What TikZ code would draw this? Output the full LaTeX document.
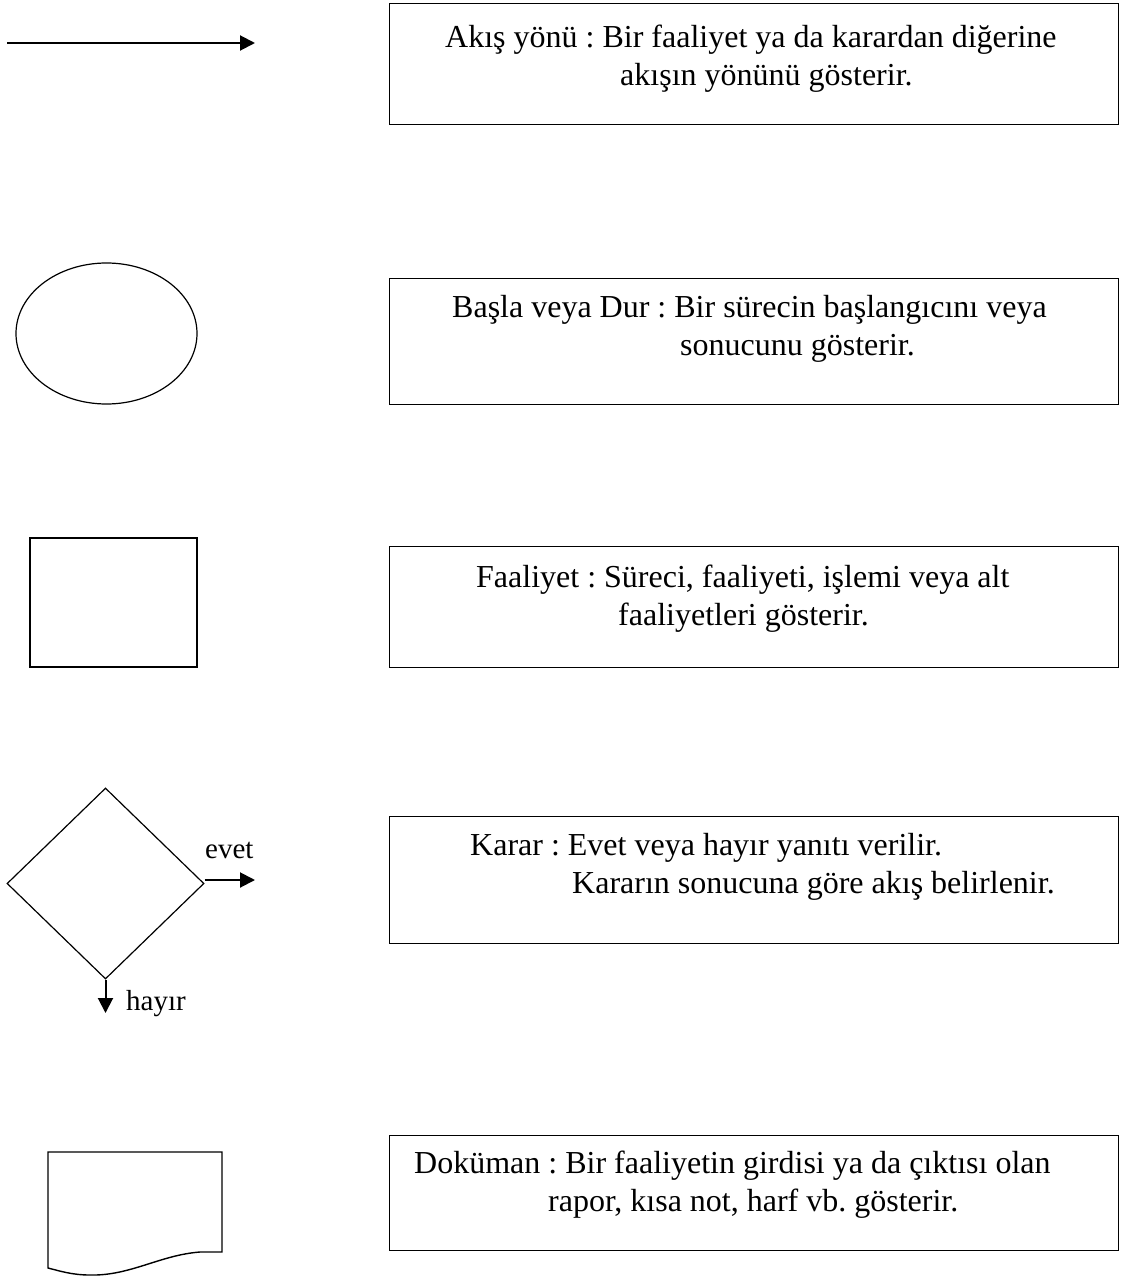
\documentclass[tikz,border=0pt]{standalone}
\usepackage{fontspec}
\setmainfont{Liberation Serif}
\usepackage{tikz}
\usetikzlibrary{arrows.meta,shapes.geometric}
\frenchspacing

\begin{document}
\begin{tikzpicture}[
  x=1pt, y=-1pt,
  kutu/.style={draw, line width=1.4pt, anchor=north west, minimum width=729pt, inner sep=0pt},
  sekil/.style={draw, line width=1.2pt, inner sep=0pt},
  satir/.style={anchor=base west, inner sep=0pt, font=\fontsize{32}{38}\selectfont},
  etiket/.style={anchor=base west, inner sep=0pt, font=\fontsize{29}{34}\selectfont},
  ok/.style={-{Triangle[length=15pt,width=15pt]}, line width=2pt}
]
\useasboundingbox (0,0) rectangle (1120,1276);

% akis yonu
\coordinate (okbas) at (7,43);
\coordinate (okuc) at (255,43);
\draw[ok] (okbas) -- (okuc);
\node[kutu, minimum height=121pt] (akiskutu) at (389,3) {};
\node[satir] (akis1) at (445,48) {Akış yönü : Bir faaliyet ya da karardan diğerine};
\node[satir] (akis2) at (620,86) {akışın yönünü gösterir.};

% basla veya dur
\node[sekil, ellipse, minimum width=181pt, minimum height=141pt] (baslasekil) at (106.5,333.5) {};
\node[kutu, minimum height=126pt] (baslakutu) at (389,278) {};
\node[satir] (basla1) at (452,317) {Başla veya Dur : Bir sürecin başlangıcını veya};
\node[satir] (basla2) at (680,355) {sonucunu gösterir.};

% faaliyet
\node[sekil, rectangle, line width=1.6pt, minimum width=167pt, minimum height=129pt] (faalsekil) at (113.5,602.5) {};
\node[kutu, minimum height=121pt] (faalkutu) at (389,546) {};
\node[satir] (faal1) at (476,587) {Faaliyet : Süreci, faaliyeti, işlemi veya alt};
\node[satir] (faal2) at (618,625) {faaliyetleri gösterir.};

% karar
\node[sekil, diamond, minimum width=197pt, minimum height=191pt] (kararsekil) at (105.5,883.5) {};
\coordinate (evetuc) at (255,880);
\coordinate (hayiruc) at (105.5,1013);
\draw[ok] ([yshift=3.5pt]kararsekil.east) -- (evetuc);
\draw[ok] (kararsekil.south) -- (hayiruc);
\node[etiket] (evet) at (205,858) {evet};
\node[etiket] (hayir) at (126,1010) {hayır};
\node[kutu, minimum height=127pt] (kararkutu) at (389,816) {};
\node[satir] (karar1) at (470,855) {Karar : Evet veya hayır yanıtı verilir.};
\node[satir] (karar2) at (572,893) {Kararın sonucuna göre akış belirlenir.};

% dokuman
\draw[line width=1.4pt] (48,1152) -- (222,1152) -- (222,1252) -- (200,1252)
  .. controls (160,1255) and (130,1276) .. (90,1275)
  .. controls (72,1275) and (60,1271) .. (48,1268) -- cycle;
\node[kutu, minimum height=115pt] (dokkutu) at (389,1135) {};
\node[satir] (dok1) at (414,1173) {Doküman : Bir faaliyetin girdisi ya da çıktısı olan};
\node[satir] (dok2) at (548,1211) {rapor, kısa not, harf vb. gösterir.};
\end{tikzpicture}
\end{document}
